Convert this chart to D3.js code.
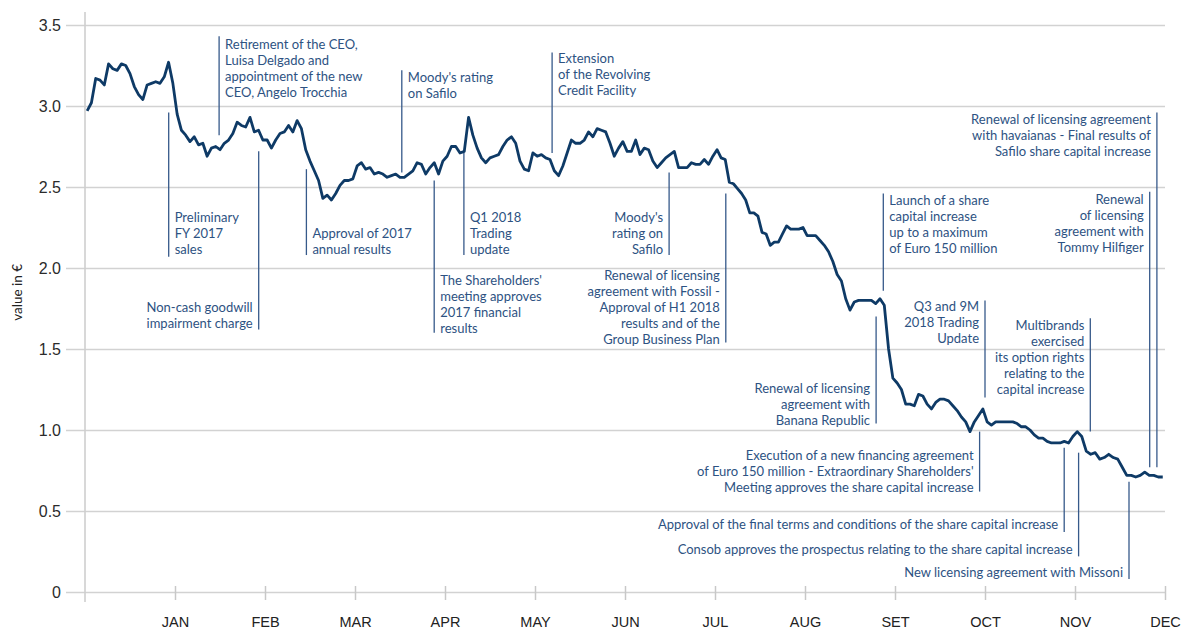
<!DOCTYPE html>
<html>
<head>
<meta charset="utf-8">
<script src="https://cdnjs.cloudflare.com/ajax/libs/d3/7.8.5/d3.min.js"></script>
<style>
  body { margin: 0; background: #fff; }
  svg { display: block; font-family: Lato, "Open Sans", sans-serif; }
</style>
</head>
<body>
<svg id="chart" width="1181" height="630"></svg>
<script>
// Safilo share price 2018, daily closes in euro, one array per month.
const monthLabels = ['JAN', 'FEB', 'MAR', 'APR', 'MAY', 'JUN',
                     'JUL', 'AUG', 'SET', 'OCT', 'NOV', 'DEC'];

const jan = [2.97, 3.02, 3.17, 3.16, 3.13, 3.26, 3.23, 3.22, 3.26, 3.25, 3.20,
             3.12, 3.07, 3.04, 3.13, 3.14, 3.15, 3.14, 3.18, 3.27, 3.14];
const feb = [2.95, 2.85, 2.82, 2.78, 2.81, 2.76, 2.77, 2.69, 2.74, 2.75, 2.73,
             2.77, 2.79, 2.83, 2.90, 2.88, 2.87, 2.93, 2.84, 2.85, 2.79];
const mar = [2.79, 2.74, 2.79, 2.83, 2.84, 2.88, 2.84, 2.91, 2.86, 2.73, 2.66,
             2.60, 2.54, 2.43, 2.45, 2.42, 2.46, 2.51, 2.54, 2.54, 2.55];
const apr = [2.63, 2.65, 2.61, 2.62, 2.58, 2.59, 2.58, 2.56, 2.57, 2.58, 2.56,
             2.56, 2.58, 2.60, 2.65, 2.64, 2.58, 2.62, 2.65, 2.58, 2.66];
const may = [2.69, 2.75, 2.75, 2.71, 2.72, 2.93, 2.82, 2.74, 2.68, 2.65, 2.68,
             2.69, 2.70, 2.75, 2.79, 2.81, 2.77, 2.66, 2.61, 2.60, 2.71];
const jun = [2.69, 2.70, 2.68, 2.67, 2.60, 2.57, 2.63, 2.71, 2.79, 2.77, 2.77,
             2.79, 2.84, 2.81, 2.86, 2.85, 2.84, 2.77, 2.69, 2.74, 2.78];
const jul = [2.72, 2.72, 2.79, 2.70, 2.74, 2.73, 2.66, 2.62, 2.65, 2.68, 2.70,
             2.72, 2.62, 2.62, 2.62, 2.65, 2.64, 2.64, 2.67, 2.64, 2.69];
const aug = [2.73, 2.68, 2.67, 2.53, 2.52, 2.49, 2.46, 2.42, 2.34, 2.34, 2.32,
             2.22, 2.21, 2.14, 2.16, 2.16, 2.21, 2.26, 2.24, 2.24, 2.24, 2.25];
const sep = [2.20, 2.20, 2.20, 2.17, 2.14, 2.10, 2.04, 1.96, 1.92, 1.81, 1.74,
             1.79, 1.80, 1.80, 1.80, 1.80, 1.78, 1.81, 1.77, 1.50, 1.32];
const oct = [1.29, 1.25, 1.16, 1.16, 1.15, 1.22, 1.21, 1.16, 1.13, 1.17, 1.19,
             1.19, 1.18, 1.15, 1.12, 1.08, 1.05, 0.99, 1.05, 1.09, 1.13];
const nov = [1.05, 1.03, 1.05, 1.05, 1.05, 1.05, 1.05, 1.04, 1.02, 1.02, 1.00,
             0.97, 0.95, 0.95, 0.93, 0.92, 0.92, 0.92, 0.93, 0.92, 0.96];
const dec = [0.99, 0.96, 0.87, 0.85, 0.86, 0.82, 0.83, 0.85, 0.83, 0.82, 0.77,
             0.72, 0.72, 0.71, 0.72, 0.74, 0.72, 0.72, 0.71, 0.71];

const months = [jan, feb, mar, apr, may, jun, jul, aug, sep, oct, nov, dec];

const yTicks = [0, 0.5, 1.0, 1.5, 2.0, 2.5, 3.0, 3.5];
const yTickLabels = ['0', '0.5', '1.0', '1.5', '2.0', '2.5', '3.0', '3.5'];

// Corporate events; `at` is the position on the month axis (0 = 1 Jan).
const events = [
  {at: 0.93, lines: ['Preliminary', 'FY 2017', 'sales']},
  {at: 1.93, lines: ['Non-cash goodwill', 'impairment charge']},
  {at: 1.49, lines: ['Retirement of the CEO,', 'Luisa Delgado and',
                     'appointment of the new', 'CEO, Angelo Trocchia']},
  {at: 2.46, lines: ['Approval of 2017', 'annual results']},
  {at: 3.52, lines: ['Moody\'s rating', 'on Safilo']},
  {at: 3.88, lines: ['The Shareholders\'', 'meeting approves',
                     '2017 financial', 'results']},
  {at: 4.21, lines: ['Q1 2018', 'Trading', 'update']},
  {at: 5.19, lines: ['Extension', 'of the Revolving', 'Credit Facility']},
  {at: 6.49, lines: ['Moody\'s', 'rating on', 'Safilo']},
  {at: 7.12, lines: ['Renewal of licensing', 'agreement with Fossil -',
                     'Approval of H1 2018', 'results and of the',
                     'Group Business Plan']},
  {at: 8.87, lines: ['Launch of a share', 'capital increase',
                     'up to a maximum', 'of Euro 150 million']},
  {at: 11.83, lines: ['Renewal', 'of licensing', 'agreement with',
                      'Tommy Hilfiger']},
  {at: 11.91, lines: ['Renewal of licensing agreement',
                      'with havaianas - Final results of',
                      'Safilo share capital increase']},
  {at: 10.0, lines: ['Q3 and 9M', '2018 Trading', 'Update']},
  {at: 11.17, lines: ['Multibrands', 'exercised', 'its option rights',
                      'relating to the', 'capital increase']},
  {at: 8.79, lines: ['Renewal of licensing', 'agreement with',
                     'Banana Republic']},
  {at: 9.94, lines: ['Execution of a new financing agreement',
                     'of Euro 150 million - Extraordinary Shareholders\'',
                     'Meeting approves the share capital increase']},
  {at: 10.88, lines: ['Approval of the final terms and conditions of the share capital increase']},
  {at: 11.04, lines: ['Consob approves the prospectus relating to the share capital increase']},
  {at: 11.60, lines: ['New licensing agreement with Missoni']},
];

// Placement of each callout (value units): leader top/bottom, first text line, side.
const callouts = [
  {top: 2.96, bottom: 2.07, text: 2.315, side: 'right'},
  {top: 2.72, bottom: 1.62, text: 1.759, side: 'left'},
  {top: 3.43, bottom: 2.82, text: 3.383, side: 'right'},
  {top: 2.61, bottom: 2.08, text: 2.216, side: 'right'},
  {top: 3.22, bottom: 2.59, text: 3.179, side: 'right'},
  {top: 2.54, bottom: 1.60, text: 1.926, side: 'right'},
  {top: 2.71, bottom: 2.08, text: 2.315, side: 'right'},
  {top: 3.33, bottom: 2.71, text: 3.296, side: 'right'},
  {top: 2.59, bottom: 2.08, text: 2.309, side: 'left'},
  {top: 2.46, bottom: 1.54, text: 1.951, side: 'left'},
  {top: 2.46, bottom: 1.86, text: 2.420, side: 'right'},
  {top: 2.47, bottom: 0.77, text: 2.426, side: 'left'},
  {top: 2.96, bottom: 0.77, text: 2.920, side: 'left'},
  {top: 1.80, bottom: 1.20, text: 1.765, side: 'left'},
  {top: 1.69, bottom: 0.99, text: 1.648, side: 'left'},
  {top: 1.70, bottom: 1.04, text: 1.259, side: 'left'},
  {top: 0.99, bottom: 0.62, text: 0.840, side: 'left'},
  {top: 0.89, bottom: 0.37, text: 0.414, side: 'left'},
  {top: 0.86, bottom: 0.22, text: 0.265, side: 'left'},
  {top: 0.68, bottom: 0.08, text: 0.123, side: 'left'},
];

const svg = d3.select('#chart');
const margin = {top: 25, right: 16, bottom: 38, left: 85};
const width = 1181, height = 630;
const gridLeft = 66;

const x = d3.scaleLinear().domain([0, 12])
    .range([margin.left, width - margin.right]);
const y = d3.scaleLinear().domain([0, 3.5])
    .range([height - margin.bottom, margin.top]);

// Horizontal gridlines and y labels.
svg.append('g')
    .attr('transform', `translate(${gridLeft},0)`)
    .call(d3.axisLeft(y)
        .tickValues(yTicks)
        .tickFormat((d, i) => yTickLabels[i])
        .tickSize(-(x.range()[1] - gridLeft))
        .tickPadding(5))
    .call(g => g.select('.domain').remove())
    .call(g => g.selectAll('line').attr('stroke', '#d2d2d2')
        .attr('stroke-width', 1.6))
    .call(g => g.selectAll('text').attr('fill', '#2b2b2b')
        .attr('font-size', 16));

// Vertical axis line.
svg.append('line')
    .attr('x1', x(0)).attr('x2', x(0))
    .attr('y1', 12).attr('y2', y(0) + 10)
    .attr('stroke', '#cfcfcf').attr('stroke-width', 1.6);

// Month ticks at month ends, labelled with the month.
svg.append('g')
    .attr('transform', `translate(0,${y(0) - 6})`)
    .call(d3.axisBottom(x)
        .tickValues(d3.range(1, 13))
        .tickFormat(m => monthLabels[m - 1])
        .tickSize(14)
        .tickPadding(17))
    .call(g => g.select('.domain').remove())
    .call(g => g.selectAll('line').attr('stroke', '#c8c8c8')
        .attr('stroke-width', 1.5))
    .call(g => g.selectAll('text').attr('fill', '#222')
        .attr('font-size', 14.5));

svg.append('text')
    .attr('transform', `translate(22,${y(1.85)}) rotate(-90)`)
    .attr('text-anchor', 'middle')
    .attr('font-size', 13.5)
    .attr('fill', '#222')
    .text('value in €');

// Event callouts.
const callG = svg.append('g');
events.forEach((ev, i) => {
  const c = callouts[i];
  const cx = x(ev.at);
  callG.append('line')
      .attr('x1', cx).attr('x2', cx)
      .attr('y1', y(c.top)).attr('y2', y(c.bottom))
      .attr('stroke', '#36598a').attr('stroke-width', 1.3);
  const t = callG.append('text')
      .attr('text-anchor', c.side === 'left' ? 'end' : 'start')
      .attr('font-size', 13)
      .attr('fill', '#2d5282');
  ev.lines.forEach((s, k) => {
    t.append('tspan')
        .attr('x', cx + (c.side === 'left' ? -6 : 6))
        .attr('y', y(c.text) + k * 16)
        .attr('dy', '0.35em')
        .text(s);
  });
});

// Price line.
const points = [];
months.forEach((vals, m) => {
  vals.forEach((v, i) => points.push([m + (i + 0.5) / vals.length, v]));
});

svg.append('path')
    .datum(points)
    .attr('fill', 'none')
    .attr('stroke', '#0e3a66')
    .attr('stroke-width', 2.8)
    .attr('stroke-linejoin', 'round')
    .attr('d', d3.line().x(d => x(d[0])).y(d => y(d[1])));
</script>
</body>
</html>
